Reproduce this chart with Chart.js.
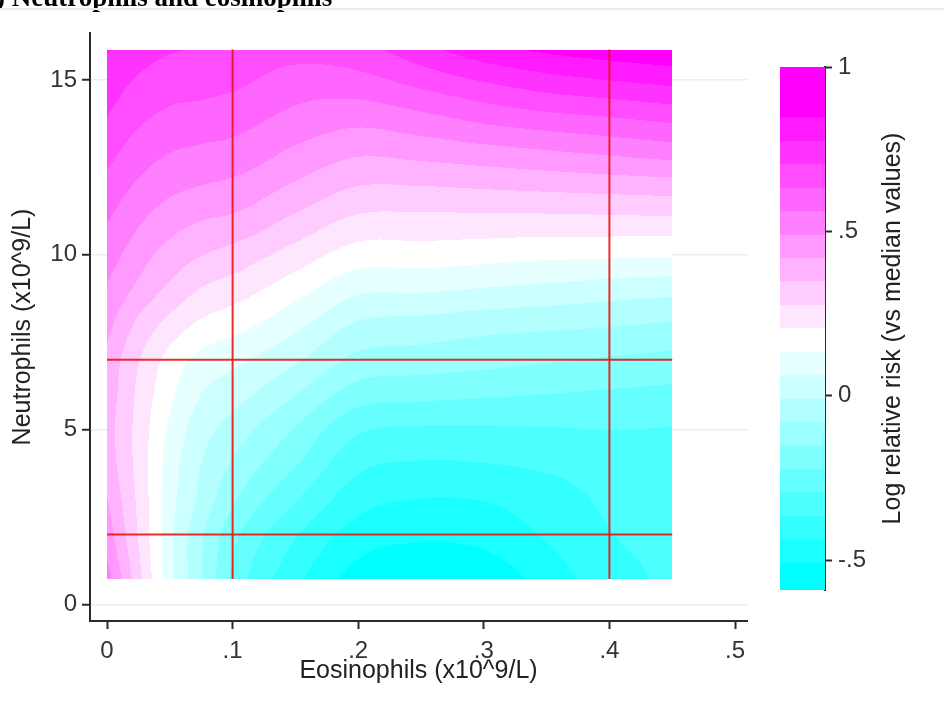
<!DOCTYPE html>
<html><head><meta charset="utf-8">
<script src="https://cdn.jsdelivr.net/npm/chart.js@4/dist/chart.umd.min.js"></script>
<style>
html,body{margin:0;padding:0;background:#fff;}
#wrap{position:relative;width:944px;height:709px;overflow:hidden;background:#fff;}
#wrap canvas{position:absolute;left:0;top:0;}
</style></head><body>
<div id="wrap"><canvas id="main" width="944" height="709"></canvas><canvas id="cbar" width="944" height="709"></canvas></div>
<script>
// ---------- data ----------
const chartTitle = 'd) Neutrophils and eosinophils';
const xTitle = 'Eosinophils (x10^9/L)';
const yTitle = 'Neutrophils (x10^9/L)';
const cbTitle = 'Log relative risk (vs median values)';

const eosinophilGrid = [0, 0.025, 0.05, 0.075, 0.1, 0.15, 0.2, 0.25, 0.3, 0.35, 0.4, 0.45];
const neutrophilGrid = [0.73, 2, 3, 4, 5, 6, 7, 8, 9, 10, 11, 12, 13, 14, 15, 15.87];

// log relative risk, one array per neutrophil level, columns follow eosinophilGrid
const logRR_n0_73 = [0.52, 0.30, 0.085, -0.075, -0.24, -0.42, -0.54, -0.58, -0.56, -0.48, -0.40, -0.35];
const logRR_n2    = [0.46, 0.27, 0.08, -0.07, -0.20, -0.36, -0.47, -0.495, -0.485, -0.43, -0.37, -0.345];
const logRR_n3    = [0.42, 0.26, 0.09, -0.03, -0.14, -0.29, -0.41, -0.44, -0.435, -0.40, -0.355, -0.335];
const logRR_n4    = [0.39, 0.25, 0.10, -0.01, -0.09, -0.22, -0.35, -0.375, -0.37, -0.355, -0.335, -0.32];
const logRR_n5    = [0.38, 0.25, 0.12, 0.02, -0.04, -0.16, -0.285, -0.305, -0.305, -0.30, -0.295, -0.298];
const logRR_n6    = [0.39, 0.26, 0.15, 0.06, 0.02, -0.08, -0.19, -0.205, -0.215, -0.225, -0.235, -0.244];
const logRR_n7    = [0.40, 0.28, 0.18, 0.11, 0.08, 0.0, -0.10, -0.115, -0.13, -0.145, -0.16, -0.173];
const logRR_n8    = [0.44, 0.33, 0.25, 0.19, 0.16, 0.08, -0.02, -0.035, -0.055, -0.065, -0.075, -0.09];
const logRR_n9    = [0.48, 0.40, 0.33, 0.27, 0.24, 0.16, 0.075, 0.07, 0.055, 0.04, 0.025, 0.012];
const logRR_n10   = [0.525, 0.45, 0.39, 0.35, 0.32, 0.245, 0.17, 0.17, 0.16, 0.15, 0.145, 0.14];
const logRR_n11   = [0.565, 0.50, 0.45, 0.42, 0.405, 0.33, 0.26, 0.255, 0.255, 0.255, 0.258, 0.262];
const logRR_n12   = [0.61, 0.55, 0.51, 0.49, 0.475, 0.41, 0.35, 0.35, 0.36, 0.37, 0.38, 0.389];
const logRR_n13   = [0.66, 0.60, 0.565, 0.55, 0.54, 0.48, 0.435, 0.45, 0.47, 0.49, 0.51, 0.531];
const logRR_n14   = [0.705, 0.65, 0.62, 0.61, 0.595, 0.545, 0.52, 0.55, 0.59, 0.62, 0.64, 0.663];
const logRR_n15   = [0.745, 0.695, 0.665, 0.66, 0.65, 0.60, 0.61, 0.66, 0.71, 0.75, 0.775, 0.798];
const logRR_n15_87= [0.78, 0.74, 0.71, 0.70, 0.69, 0.665, 0.68, 0.75, 0.82, 0.86, 0.885, 0.905];

const xTicks = [0, 0.1, 0.2, 0.3, 0.4, 0.5];
const xTickLabels = ['0', '.1', '.2', '.3', '.4', '.5'];
const yTicks = [0, 5, 10, 15];
const yTickLabels = ['0', '5', '10', '15'];
const cbTicks = [-0.5, 0, 0.5, 1];
const cbTickLabels = ['-.5', '0', '.5', '1'];

const refEosinophils = [0.1, 0.4];
const refNeutrophils = [2, 7];

const colorMin = -0.591;
const colorMax = 1.0;
const contourCuts = [-0.509, -0.438, -0.367, -0.295, -0.224, -0.153, -0.081, -0.010, 0.061, 0.133,
                     0.204, 0.275, 0.347, 0.418, 0.489, 0.560, 0.632, 0.703, 0.774, 0.846];
const bandColors = ['#00ffff', '#1affff', '#33ffff', '#4dffff', '#66ffff', '#80ffff', '#99ffff', '#b3ffff', '#ccffff', '#e6ffff',
                    '#ffffff',
                    '#ffe6ff', '#ffccff', '#ffb3ff', '#ff99ff', '#ff80ff', '#ff66ff', '#ff4dff', '#ff33ff', '#ff1aff', '#ff00ff'];

// ---------- helpers ----------
const zRows = [logRR_n0_73, logRR_n2, logRR_n3, logRR_n4, logRR_n5, logRR_n6, logRR_n7, logRR_n8,
               logRR_n9, logRR_n10, logRR_n11, logRR_n12, logRR_n13, logRR_n14, logRR_n15, logRR_n15_87];
const FONT = '"Liberation Sans", Arial, sans-serif';
const AXIS = '#2b2b2b';
function hexRGB(h){return [parseInt(h.slice(1,3),16),parseInt(h.slice(3,5),16),parseInt(h.slice(5,7),16)];}
const bandRGB = bandColors.map(hexRGB);
function bandOf(v){let k=0;while(k<contourCuts.length && v>=contourCuts[k])k++;return k;}
function locate(arr,v){
  if(v<=arr[0])return [0,0];
  for(let i=0;i<arr.length-1;i++){ if(v<=arr[i+1]) return [i,(v-arr[i])/(arr[i+1]-arr[i])]; }
  return [arr.length-2,1];
}
// tangents for cubic Hermite rendering between grid nodes (non-uniform spacing)
function tangents(g, vals){
  const n = g.length, m = new Array(n);
  for(let k=0;k<n;k++){
    if(k===0) m[k]=(vals[1]-vals[0])/(g[1]-g[0]);
    else if(k===n-1) m[k]=(vals[n-1]-vals[n-2])/(g[n-1]-g[n-2]);
    else {
      const h0=g[k]-g[k-1], h1=g[k+1]-g[k];
      const d0=(vals[k]-vals[k-1])/h0, d1=(vals[k+1]-vals[k])/h1;
      m[k]=(d0*h1+d1*h0)/(h0+h1);
    }
  }
  return m;
}
function hermite(g, vals, m, idx, t){
  const h = g[idx+1]-g[idx];
  const t2=t*t, t3=t2*t;
  return (2*t3-3*t2+1)*vals[idx] + (t3-2*t2+t)*h*m[idx] + (-2*t3+3*t2)*vals[idx+1] + (t3-t2)*h*m[idx+1];
}

const heatPlugin = {
  id:'heat',
  beforeDatasetsDraw(chart){
    const {ctx, scales:{x, y}} = chart;
    const left = Math.round(x.getPixelForValue(eosinophilGrid[0]));
    const right = Math.round(x.getPixelForValue(eosinophilGrid[eosinophilGrid.length-1]));
    const top = Math.round(y.getPixelForValue(neutrophilGrid[neutrophilGrid.length-1]));
    const bottom = Math.round(y.getPixelForValue(neutrophilGrid[0]));
    const w = right-left, h = bottom-top;
    const off = document.createElement('canvas'); off.width=w; off.height=h;
    const octx = off.getContext('2d');
    const img = octx.createImageData(w,h);
    const rowTan = zRows.map(r=>tangents(eosinophilGrid, r));
    // values along each pixel column at every neutrophil node
    const colNode = [];
    for(let i=0;i<w;i++){
      const [c,tx] = locate(eosinophilGrid, x.getValueForPixel(left+i+0.5));
      const nodeVals = zRows.map((r,ri)=>hermite(eosinophilGrid, r, rowTan[ri], c, tx));
      colNode.push({vals:nodeVals, m:tangents(neutrophilGrid, nodeVals)});
    }
    for(let j=0;j<h;j++){
      const [r,ty] = locate(neutrophilGrid, y.getValueForPixel(top+j+0.5));
      for(let i=0;i<w;i++){
        const cn = colNode[i];
        const v = hermite(neutrophilGrid, cn.vals, cn.m, r, ty);
        const col = bandRGB[bandOf(v)];
        const p = (j*w+i)*4;
        img.data[p]=col[0]; img.data[p+1]=col[1]; img.data[p+2]=col[2]; img.data[p+3]=255;
      }
    }
    octx.putImageData(img,0,0);
    ctx.drawImage(off,left,top);
  },
  afterDraw(chart){
    const ctx = chart.ctx;
    ctx.save();
    ctx.fillStyle = '#000';
    ctx.font = 'bold 27px "Liberation Serif", "Times New Roman", serif';
    ctx.textBaseline = 'alphabetic';
    ctx.textAlign = 'left';
    ctx.fillText(chartTitle, -19, 5.5);
    ctx.fillStyle = '#e6ecef';
    ctx.fillRect(0, 8, 944, 2);
    ctx.restore();
  }
};

const yLo = neutrophilGrid[0], yHi = neutrophilGrid[neutrophilGrid.length-1];
const xLo = eosinophilGrid[0], xHi = eosinophilGrid[eosinophilGrid.length-1];
const refSets = [];
refEosinophils.forEach(v=>refSets.push({data:[{x:v,y:yLo},{x:v,y:yHi}]}));
refNeutrophils.forEach(v=>refSets.push({data:[{x:xLo,y:v},{x:xHi,y:v}]}));

new Chart(document.getElementById('main'), {
  type:'scatter',
  data:{datasets: refSets.map(s=>({data:s.data, showLine:true, borderColor:'rgba(235,20,20,0.9)', borderWidth:2, pointRadius:0, fill:false}))},
  options:{
    responsive:false, devicePixelRatio:1, animation:false,
    layout:{padding:{left:0, top:33, right:197, bottom:0}},
    plugins:{legend:{display:false}, tooltip:{enabled:false}},
    scales:{
      x:{type:'linear', min:-0.01354, max:0.50955,
        afterBuildTicks(s){s.ticks = xTicks.map(v=>({value:v}));},
        afterFit(s){s.height = 88;},
        ticks:{callback:(v)=>xTickLabels[xTicks.indexOf(v)] ?? '', font:{family:FONT,size:24}, color:'#333', padding:8, maxRotation:0, autoSkip:false},
        grid:{color:'rgba(0,0,0,0)', tickColor:AXIS, tickLength:8, tickWidth:2},
        border:{display:true, color:AXIS, width:2},
        title:{display:true, text:xTitle, font:{family:FONT,size:25}, color:'#222', padding:{top:0,bottom:23}}
      },
      y:{type:'linear', min:-0.471, max:16.343,
        afterBuildTicks(s){s.ticks = yTicks.map(v=>({value:v}));},
        afterFit(s){s.width = 90;},
        ticks:{callback:(v)=>yTickLabels[yTicks.indexOf(v)] ?? '', font:{family:FONT,size:24}, color:'#333', padding:5, autoSkip:false},
        grid:{color:'#e9eff2', lineWidth:1.5, tickColor:AXIS, tickLength:8, tickWidth:2},
        border:{display:true, color:AXIS, width:2},
        title:{display:true, text:yTitle, font:{family:FONT,size:25}, color:'#222', padding:{top:8,bottom:0}}
      }
    }
  },
  plugins:[heatPlugin]
});

// ---------- colour bar ----------
const bandLo = [colorMin].concat(contourCuts);
const bandHi = contourCuts.concat([colorMax]);
const cbTitlePlugin = {
  id:'cbTitle',
  afterDraw(chart){
    const ctx = chart.ctx;
    const area = chart.chartArea;
    ctx.save();
    ctx.translate(893, (area.top+area.bottom)/2);
    ctx.rotate(-Math.PI/2);
    ctx.font = '25px ' + FONT;
    ctx.fillStyle = '#222';
    ctx.textAlign = 'center';
    ctx.textBaseline = 'middle';
    ctx.fillText(cbTitle, 0, 0);
    ctx.restore();
  }
};
new Chart(document.getElementById('cbar'), {
  type:'bar',
  data:{labels:['band'], datasets: bandColors.map((c,i)=>({data:[[bandLo[i], bandHi[i]]], backgroundColor:c, borderWidth:0, barPercentage:1, categoryPercentage:1, grouped:false}))},
  options:{
    responsive:false, devicePixelRatio:1, animation:false,
    layout:{padding:{left:780, top:67, right:0, bottom:119}},
    plugins:{legend:{display:false}, tooltip:{enabled:false}},
    scales:{
      x:{display:false},
      y:{position:'right', min:colorMin, max:colorMax,
        afterBuildTicks(s){s.ticks = cbTicks.map(v=>({value:v}));},
        afterFit(s){s.width = 119;},
        ticks:{callback:(v)=>cbTickLabels[cbTicks.indexOf(v)] ?? '', font:{family:FONT,size:24}, color:'#333', padding:6, autoSkip:false},
        grid:{drawOnChartArea:false, tickColor:AXIS, tickLength:7, tickWidth:2},
        border:{display:true, color:AXIS, width:2}
      }
    }
  },
  plugins:[cbTitlePlugin]
});
</script>
</body></html>
